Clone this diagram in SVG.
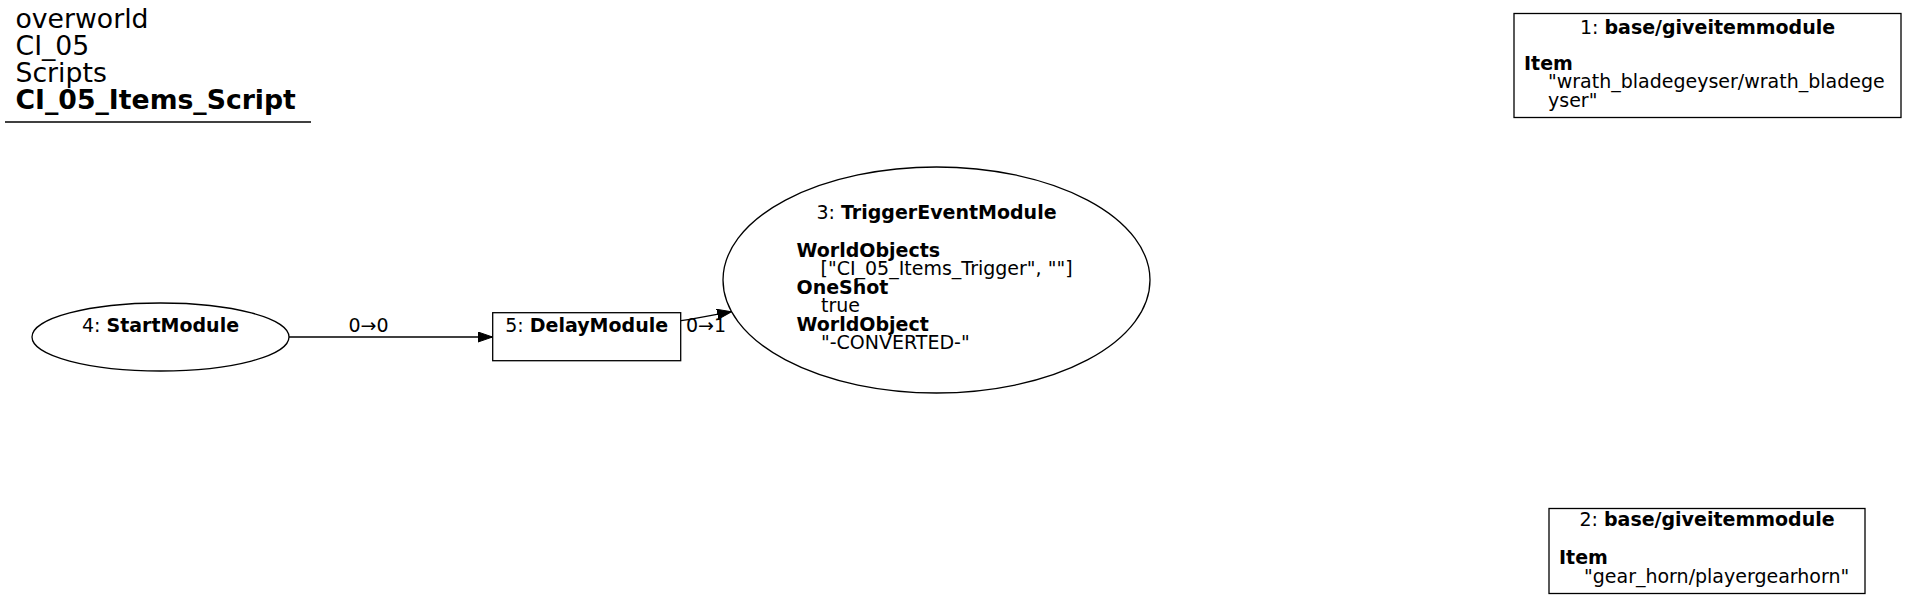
<svg xmlns="http://www.w3.org/2000/svg" width="1907" height="599" viewBox="0 0 1907 599">
<defs>
<style>
text{font-family:"DejaVu Sans","Liberation Sans",sans-serif;fill:#000}
.n{font-size:19px}
.t{font-size:26.7px}
.b{font-weight:bold}
.m{text-anchor:middle}
.shape{fill:none;stroke:#000;stroke-width:1.3}
.edge{fill:none;stroke:#000;stroke-width:1.3}
</style>
<marker id="arr" markerWidth="15" markerHeight="11" viewBox="0 0 15 11" refX="14.5" refY="5.5" orient="auto" markerUnits="userSpaceOnUse">
<path d="M0,0.5 L14.5,5.5 L0,10.5 Z" fill="#000" stroke="#000" stroke-width="1"/>
</marker>
</defs>
<rect width="1907" height="599" fill="#fff"/>
<g id="title">
<text class="t" x="15.5" y="28">overworld</text>
<text class="t" x="15.5" y="55">CI_05</text>
<text class="t" x="15.5" y="82">Scripts</text>
<text class="t b" x="15.5" y="109">CI_05_Items_Script</text>
<line x1="5" y1="122" x2="311" y2="122" stroke="#000" stroke-width="1.3"/>
</g>
<g id="connectors">
<g id="e4-5">
<path class="edge" d="M289,337 L492.5,337" marker-end="url(#arr)"/>
<text class="n m" x="368.5" y="332">0→0</text>
</g>
<g id="e5-3">
<path class="edge" d="M681,320.7 C700,318 716,314.5 731.6,311.7" marker-end="url(#arr)"/>
<text class="n m" x="706" y="332">0→1</text>
</g>
</g>
<g id="node1">
<rect class="shape" x="1514" y="13.5" width="387" height="104"/>
<text class="n m" x="1707.5" y="33.5">1: <tspan class="b">base/giveitemmodule</tspan></text>
<text class="n b" x="1524" y="69.5">Item</text>
<text class="n" x="1548" y="88">"wrath_bladegeyser/wrath_bladege</text>
<text class="n" x="1548" y="106.5">yser"</text>
</g>
<g id="node2">
<rect class="shape" x="1549" y="508.5" width="316" height="85"/>
<text class="n m" x="1707" y="526">2: <tspan class="b">base/giveitemmodule</tspan></text>
<text class="n b" x="1559" y="564">Item</text>
<text class="n" x="1584" y="582.5">"gear_horn/playergearhorn"</text>
</g>
<g id="node3">
<ellipse class="shape" cx="936.5" cy="280" rx="213.5" ry="113"/>
<text class="n m" x="936.5" y="218.5">3: <tspan class="b">TriggerEventModule</tspan></text>
<text class="n b" x="796.5" y="256.5">WorldObjects</text>
<text class="n" x="820.5" y="275">["CI_05_Items_Trigger", ""]</text>
<text class="n b" x="796.5" y="293.5">OneShot</text>
<text class="n" x="821" y="312">true</text>
<text class="n b" x="796.5" y="330.5">WorldObject</text>
<text class="n" x="821" y="349">"-CONVERTED-"</text>
</g>
<g id="node4">
<ellipse class="shape" cx="160.5" cy="337" rx="128.5" ry="34"/>
<text class="n m" x="160.5" y="332">4: <tspan class="b">StartModule</tspan></text>
</g>
<g id="node5">
<rect class="shape" x="492.7" y="312.7" width="188" height="48"/>
<text class="n m" x="586.7" y="332">5: <tspan class="b">DelayModule</tspan></text>
</g>
</svg>
